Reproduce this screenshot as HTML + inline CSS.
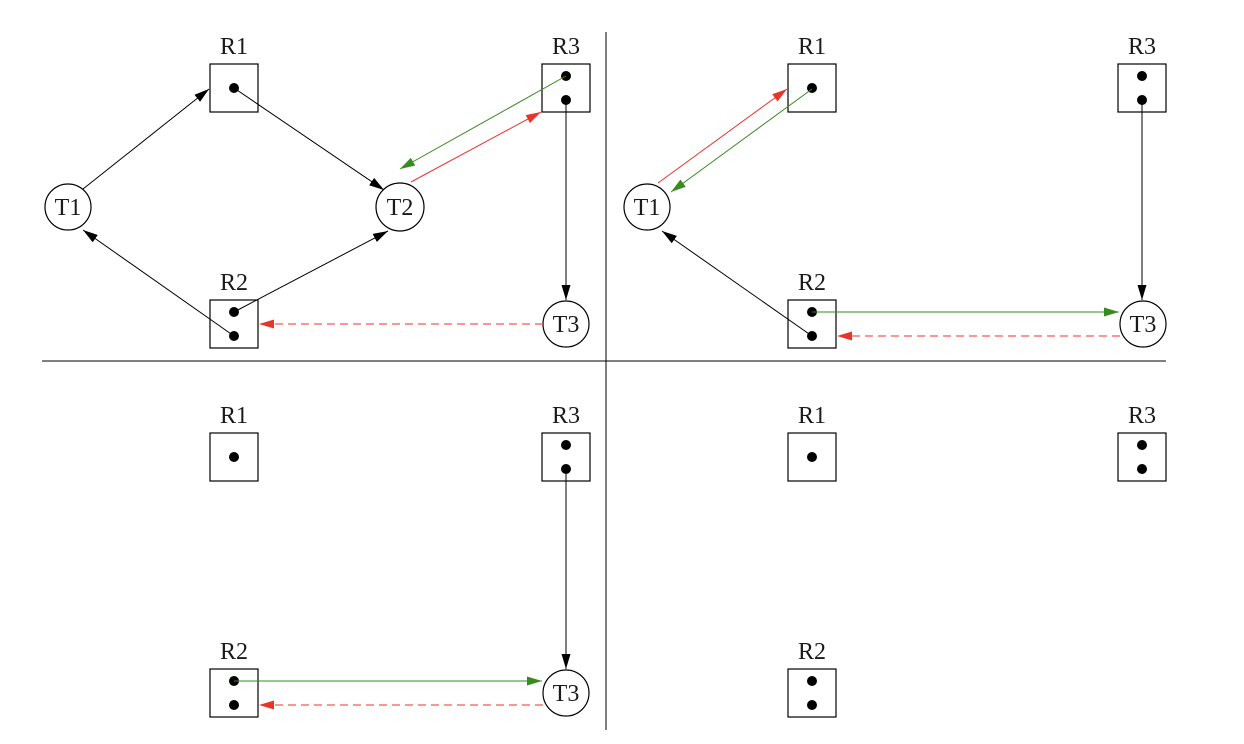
<!DOCTYPE html>
<html><head><meta charset="utf-8"><style>body{margin:0;background:#fff}svg{display:block}text{font-family:"Liberation Serif",serif;font-size:24px}</style></head><body>
<svg width="1244" height="744" viewBox="0 0 1244 744" xmlns="http://www.w3.org/2000/svg" fill="none">
<defs>
<marker id="k" viewBox="0 0 10 6" refX="10" refY="3" markerWidth="15" markerHeight="9" markerUnits="userSpaceOnUse" orient="auto"><path d="M0,0L10,3L0,6z" fill="#000"/></marker>
<marker id="r" viewBox="0 0 10 6" refX="10" refY="3" markerWidth="15" markerHeight="9" markerUnits="userSpaceOnUse" orient="auto"><path d="M0,0L10,3L0,6z" fill="#e8352a"/></marker>
<marker id="g" viewBox="0 0 10 6" refX="10" refY="3" markerWidth="15" markerHeight="9" markerUnits="userSpaceOnUse" orient="auto"><path d="M0,0L10,3L0,6z" fill="#3a8a22"/></marker>
</defs>
<g stroke="#000" stroke-width="1">
<line x1="606" y1="32" x2="606" y2="730"/>
<line x1="42" y1="361" x2="1166" y2="361"/>
</g>
<g stroke="#000" stroke-width="1.2" fill="#fff">
<rect x="210" y="64" width="48" height="48"/><rect x="542" y="64" width="48" height="48"/><rect x="210" y="300" width="48" height="48"/>
<rect x="788" y="64" width="48" height="48"/><rect x="1118" y="64" width="48" height="48"/><rect x="788" y="300" width="48" height="48"/>
<rect x="210" y="433" width="48" height="48"/><rect x="542" y="433" width="48" height="48"/><rect x="210" y="669" width="48" height="48"/>
<rect x="788" y="433" width="48" height="48"/><rect x="1118" y="433" width="48" height="48"/><rect x="788" y="669" width="48" height="48"/>
<circle cx="68" cy="207" r="23"/><circle cx="400" cy="207" r="24"/><circle cx="566" cy="324" r="23"/>
<circle cx="647" cy="207" r="23"/><circle cx="1143" cy="324" r="23"/>
<circle cx="566" cy="693" r="23"/>
</g>
<g fill="#000">
<circle cx="234" cy="88" r="5"/><circle cx="566" cy="76" r="5"/><circle cx="566" cy="100" r="5"/><circle cx="234" cy="312" r="5"/><circle cx="234" cy="336" r="5"/>
<circle cx="812" cy="88" r="5"/><circle cx="1142" cy="76" r="5"/><circle cx="1142" cy="100" r="5"/><circle cx="812" cy="312" r="5"/><circle cx="812" cy="336" r="5"/>
<circle cx="234" cy="457" r="5"/><circle cx="566" cy="445" r="5"/><circle cx="566" cy="469" r="5"/><circle cx="234" cy="681" r="5"/><circle cx="234" cy="705" r="5"/>
<circle cx="812" cy="457" r="5"/><circle cx="1142" cy="445" r="5"/><circle cx="1142" cy="469" r="5"/><circle cx="812" cy="681" r="5"/><circle cx="812" cy="705" r="5"/>
</g>
<g fill="#1a1a1a" text-anchor="middle">
<text x="234" y="54">R1</text><text x="566" y="54">R3</text><text x="234" y="290">R2</text>
<text x="812" y="54">R1</text><text x="1142" y="54">R3</text><text x="812" y="290">R2</text>
<text x="234" y="423">R1</text><text x="566" y="423">R3</text><text x="234" y="659">R2</text>
<text x="812" y="423">R1</text><text x="1142" y="423">R3</text><text x="812" y="659">R2</text>
<text x="68" y="215">T1</text><text x="400" y="215">T2</text><text x="566" y="332">T3</text>
<text x="647" y="215">T1</text><text x="1143" y="332">T3</text><text x="566" y="701">T3</text>
</g>
<g stroke="#000" stroke-width="1">
<line x1="83" y1="189" x2="209" y2="89" marker-end="url(#k)"/>
<line x1="234" y1="88" x2="384" y2="190" marker-end="url(#k)"/>
<line x1="234" y1="336" x2="83" y2="230" marker-end="url(#k)"/>
<line x1="234" y1="312" x2="388" y2="231" marker-end="url(#k)"/>
<line x1="566" y1="100" x2="566" y2="300" marker-end="url(#k)"/>
<line x1="812" y1="336" x2="662" y2="231" marker-end="url(#k)"/>
<line x1="1142" y1="100" x2="1142" y2="300" marker-end="url(#k)"/>
<line x1="566" y1="469" x2="566" y2="669" marker-end="url(#k)"/>
</g>
<g stroke="#3a8a22" stroke-width="1">
<line x1="566" y1="76" x2="400" y2="169" marker-end="url(#g)"/>
<line x1="812" y1="89" x2="671" y2="192" marker-end="url(#g)"/>
<line x1="812" y1="312" x2="1119" y2="312" marker-end="url(#g)"/>
<line x1="234" y1="681" x2="542" y2="681" marker-end="url(#g)"/>
</g>
<g stroke="#e8352a" stroke-width="1">
<line x1="411" y1="182" x2="541" y2="112" marker-end="url(#r)"/>
<line x1="658" y1="183" x2="787" y2="89" marker-end="url(#r)"/>
<line x1="543" y1="324" x2="259" y2="324" stroke-dasharray="8,5" marker-end="url(#r)"/>
<line x1="1120" y1="336" x2="837" y2="336" stroke-dasharray="8,5" marker-end="url(#r)"/>
<line x1="543" y1="705" x2="259" y2="705" stroke-dasharray="8,5" marker-end="url(#r)"/>
</g>
</svg>
</body></html>
